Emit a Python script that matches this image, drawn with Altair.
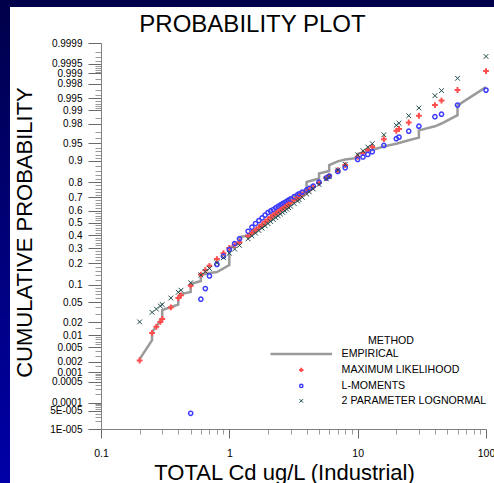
import math
from statistics import NormalDist

import altair as alt
import pandas as pd

FONT = "Liberation Sans"
_nd = NormalDist()


def probit(p):
    """Normal quantile used to build the probability-paper axis."""
    return _nd.inv_cdf(p)


# ---- fitted distributions, evaluated at the distinct concentrations (ug/L) ----
conc = [0.2, 0.25, 0.27, 0.29, 0.3, 0.35, 0.4, 0.42, 0.5, 0.6,
        0.65, 0.7, 0.8, 0.9, 1.0, 1.1, 1.2, 1.4, 1.5, 1.6,
        1.7, 1.8, 1.9, 2.0, 2.1, 2.2, 2.3, 2.4, 2.5, 2.6,
        2.7, 2.8, 2.9, 3.0, 3.2, 3.4, 3.5, 3.7, 4.0, 4.2,
        4.5, 5.0, 5.7, 6.0, 7.0, 8.0, 10, 11, 12, 13,
        16, 20, 21, 25, 30, 40, 45, 60, 100]

p_max_likelihood = [0.0022, 0.0114, 0.0157, 0.0202, 0.0233, 0.0401, 0.0600, 0.0668, 0.0968, 0.1423,
                    0.1635, 0.1867, 0.2266, 0.2644, 0.3015, 0.3228, 0.3446, 0.3936, 0.4168, 0.4404,
                    0.4641, 0.4840, 0.5080, 0.5279, 0.5458, 0.5636, 0.5793, 0.5925, 0.6056, 0.6179,
                    0.6293, 0.6406, 0.6510, 0.6613, 0.6801, 0.6973, 0.7054, 0.7204, 0.7410, 0.7533,
                    0.7704, 0.7949, 0.8230, 0.8332, 0.8617, 0.8836, 0.9140, 0.9251, 0.9342, 0.9418,
                    0.9582, 0.9715, 0.9738, 0.9810, 0.9866, 0.99257, 0.99425, 0.99699, 0.99915]

# L-moment fit has its lower bound near 0.5 ug/L: nothing plotted below it
p_l_moments = [None, None, None, None, None, None, None, None, 0.0000407, 0.0571,
               0.0869, 0.1357, 0.1949, 0.2451, 0.2894, 0.3336, 0.3707, 0.4305, 0.4641, 0.4940,
               0.5180, 0.5398, 0.5636, 0.5843, 0.5968, 0.6083, 0.6217, 0.6331, 0.6439, 0.6536,
               0.6628, 0.6718, 0.6808, 0.6890, 0.7054, 0.7190, 0.7257, 0.7373, 0.7514, 0.7611,
               0.7764, 0.7993, 0.8238, 0.8327, 0.8559, 0.8726, 0.9051, 0.9134, 0.9213, 0.9292,
               0.9452, 0.9590, 0.9618, 0.9709, 0.9772, 0.9859, 0.98765, 0.99255, 0.99697]

p_lognormal_2p = [0.0202, 0.0320, 0.0372, 0.0426, 0.0454, 0.0599, 0.0753, 0.0816, 0.1074, 0.1402,
                  0.1566, 0.1728, 0.2046, 0.2354, 0.2649, 0.2932, 0.3202, 0.3703, 0.3935, 0.4156,
                  0.4366, 0.4566, 0.4756, 0.4936, 0.5108, 0.5271, 0.5428, 0.5576, 0.5718, 0.5854,
                  0.5984, 0.6108, 0.6226, 0.6339, 0.6550, 0.6746, 0.6838, 0.7011, 0.7245, 0.7387,
                  0.7581, 0.7862, 0.8183, 0.8301, 0.8623, 0.8866, 0.9201, 0.9319, 0.9414, 0.9492,
                  0.9657, 0.9782, 0.9803, 0.9866, 0.99124, 0.99573, 0.99687, 0.99860, 0.99971]

# ---- empirical distribution (tied values give vertical runs) ----
emp_conc = [0.2, 0.25, 0.25, 0.27, 0.29, 0.3, 0.3, 0.35, 0.4, 0.4,
            0.42, 0.5, 0.5, 0.6, 0.6, 0.7, 0.8, 1.0, 1.0, 1.2,
            1.2, 1.4, 1.6, 2.0, 2.3, 2.6, 3.0, 3.3, 4.0, 4.0,
            5.0, 5.0, 6.0, 6.0, 7.0, 8.0, 10, 10, 13, 16,
            20, 25, 30, 30, 40, 45, 60, 60, 100]
emp_prob = [0.0024, 0.0076, 0.0119, 0.0161, 0.0219, 0.0249, 0.0355, 0.0407, 0.0453, 0.0610,
            0.0702, 0.0759, 0.1026, 0.1141, 0.1400, 0.1494, 0.1541, 0.1910, 0.2974, 0.3453,
            0.3844, 0.3963, 0.4247, 0.511, 0.560, 0.632, 0.696, 0.718, 0.751, 0.801,
            0.820, 0.846, 0.858, 0.884, 0.898, 0.905, 0.910, 0.923, 0.934, 0.943,
            0.949, 0.956, 0.961, 0.972, 0.977, 0.980, 0.987, 0.9924, 0.9975]

methods = ["EMPIRICAL", "MAXIMUM LIKELIHOOD", "L-MOMENTS", "2 PARAMETER LOGNORMAL"]
method_colors = ["#9a9a9a", "#ff4d4d", "#3c3cff", "#1f4a4a"]
method_widths = [2.5, 1, 1, 1]
method_shapes = [
    "M-15.4,0L15.4,0",
    "M-1.1,0L1.1,0M0,-1.1L0,1.1",
    "M-0.8,0A0.8,0.8 0 1,0 0.8,0A0.8,0.8 0 1,0 -0.8,0Z",
    "M-0.9,-0.9L0.9,0.9M-0.9,0.9L0.9,-0.9",
]

# ---- probability-paper tick marks ----
y_major_p = [0.00001, 0.00005, 0.0001, 0.0005, 0.001, 0.002, 0.005, 0.01, 0.02, 0.05,
             0.1, 0.2, 0.3, 0.4, 0.5, 0.6, 0.7, 0.8, 0.9, 0.95,
             0.98, 0.99, 0.995, 0.998, 0.999, 0.9995, 0.9999]
y_major_labels = ["1E-005", "5E-005", "0.0001", "0.0005", "0.001", "0.002", "0.005", "0.01", "0.02", "0.05",
                  "0.1", "0.2", "0.3", "0.4", "0.5", "0.6", "0.7", "0.8", "0.9", "0.95",
                  "0.98", "0.99", "0.995", "0.998", "0.999", "0.9995", "0.9999"]
y_minor_p = [0.00002, 0.00003, 0.00004, 0.00006, 0.00007, 0.00008, 0.00009,
             0.0002, 0.0003, 0.0004, 0.0006, 0.0007, 0.0008, 0.0009, 0.0015,
             0.003, 0.004, 0.006, 0.007, 0.008, 0.009, 0.015, 0.03, 0.04,
             0.06, 0.07, 0.08, 0.09,
             0.12, 0.14, 0.16, 0.18, 0.22, 0.24, 0.26, 0.28, 0.32, 0.34, 0.36, 0.38,
             0.42, 0.44, 0.46, 0.48, 0.52, 0.54, 0.56, 0.58, 0.62, 0.64, 0.66, 0.68,
             0.72, 0.74, 0.76, 0.78, 0.82, 0.84, 0.86, 0.88,
             0.91, 0.92, 0.93, 0.94, 0.96, 0.97, 0.985, 0.991, 0.992, 0.993, 0.994,
             0.996, 0.997, 0.9985, 0.9991, 0.9992, 0.9993, 0.9994, 0.9996, 0.9997, 0.9998]

x_major = [0.1, 1, 10, 100]
x_minor = [0.2, 0.3, 0.4, 0.5, 0.6, 0.7, 0.8, 0.9,
           2, 3, 4, 5, 6, 7, 8, 9,
           20, 30, 40, 50, 60, 70, 80, 90]

# ---- build tables ----
rows = []
for i, c in enumerate(conc):
    for name, series in ((methods[1], p_max_likelihood),
                         (methods[2], p_l_moments),
                         (methods[3], p_lognormal_2p)):
        p = series[i]
        if p is not None:
            rows.append({"conc": c, "prob": p, "z": probit(p), "method": name})
points = pd.DataFrame(rows)

empirical = pd.DataFrame({
    "conc": emp_conc,
    "prob": emp_prob,
    "z": [probit(p) for p in emp_prob],
    "step": list(range(len(emp_conc))),
    "method": methods[0],
})

z_lo, z_hi = probit(y_major_p[0]), probit(y_major_p[-1])
z_major = [probit(p) for p in y_major_p]
y_ticks = sorted(z_major + [probit(p) for p in y_minor_p])

keys = [math.floor(z * 10000 + 0.5) for z in z_major]
key_js = "[" + ",".join(str(k) for k in keys) + "]"
lbl_js = "[" + ",".join("'" + s + "'" for s in y_major_labels) + "]"
y_is_major = f"indexof({key_js}, round(datum.value*10000)) >= 0"
y_label_expr = f"{y_is_major} ? {lbl_js}[indexof({key_js}, round(datum.value*10000))] : ''"

x_is_major = "indexof([0.1, 1, 10, 100], datum.value) >= 0"
x_label_expr = ("datum.value == 0.1 ? '0.1' : datum.value == 1 ? '1' : "
                "datum.value == 10 ? '10' : datum.value == 100 ? '100' : ''")

x_axis = alt.Axis(
    values=sorted(x_major + x_minor),
    labelExpr=x_label_expr,
    title="TOTAL Cd ug/L (Industrial)",
    tickSize={"condition": {"test": x_is_major, "value": 9}, "value": 5},
    tickColor={"condition": {"test": x_is_major, "value": "#6a6a6a"}, "value": "#9a9a9a"},
    domainColor="#808080",
    labelFont=FONT, labelFontSize=10.5, labelColor="black", labelPadding=10,
    labelFlush=False, labelOverlap=False, grid=False,
    titleFont=FONT, titleFontSize=22, titleFontWeight="normal", titleColor="black",
    titleX=183, titleY=50, titleAlign="center", titleBaseline="alphabetic",
)

y_axis = alt.Axis(
    values=y_ticks,
    labelExpr=y_label_expr,
    title="CUMULATIVE PROBABILITY",
    tickSize={"condition": {"test": y_is_major, "value": 13}, "value": 6},
    tickColor={"condition": {"test": y_is_major, "value": "#6a6a6a"}, "value": "#9a9a9a"},
    domainColor="#808080",
    labelFont=FONT, labelFontSize=10, labelColor="black", labelPadding=6,
    labelFlush=False, labelOverlap=False, grid=False,
    titleFont=FONT, titleFontSize=22, titleFontWeight="normal", titleColor="black",
    titleAngle=270, titleX=-70, titleY=189, titleAlign="center", titleBaseline="alphabetic",
)

x_enc = alt.X("conc:Q", scale=alt.Scale(type="log", domain=[0.1, 100], nice=False), axis=x_axis)
y_enc = alt.Y("z:Q", scale=alt.Scale(domain=[z_lo, z_hi], nice=False, zero=False), axis=y_axis)

# trailing no-break spaces keep the legend heading centred over the whole block,
# including the long line sample that sticks out left of the symbol column
legend = alt.Legend(
    title="METHOD" + "\u00a0" * 6, orient="none", legendX=195, legendY=293,
    titleFont=FONT, titleFontSize=10.6, titleFontWeight="normal", titleColor="black",
    titleAnchor="middle", titlePadding=2,
    labelFont=FONT, labelFontSize=10.6, labelColor="black", labelOffset=35,
    symbolSize=16, rowPadding=4, padding=0,
)
color_enc = alt.Color("method:N", scale=alt.Scale(domain=methods, range=method_colors), legend=legend)
width_enc = alt.StrokeWidth("method:N", scale=alt.Scale(domain=methods, range=method_widths), legend=legend)
shape_enc = alt.Shape("method:N", scale=alt.Scale(domain=methods, range=method_shapes), legend=legend)

empirical_line = alt.Chart(empirical).mark_line(strokeJoin="miter").encode(
    x=x_enc, y=y_enc, order="step:Q", color=color_enc, strokeWidth=width_enc,
)

fitted_points = alt.Chart(points).mark_point(filled=False, opacity=1, size=28).encode(
    x=x_enc, y=y_enc, color=color_enc, shape=shape_enc, strokeWidth=width_enc,
)

# slide frame: dark strip along the left edge and the top edge
frame_left = alt.Chart(alt.Data(values=[{}])).mark_rect(
    color=alt.LinearGradient(
        gradient="linear", x1=0, x2=0, y1=0, y2=1,
        stops=[alt.GradientStop(color="#00004a", offset=0),
               alt.GradientStop(color="#0000a8", offset=1)],
    )
).encode(x=alt.value(-101), x2=alt.value(-91), y=alt.value(-43), y2=alt.value(440))

frame_top = alt.Chart(alt.Data(values=[{}])).mark_rect(color="#00004a").encode(
    x=alt.value(-101), x2=alt.value(393), y=alt.value(-43), y2=alt.value(-36)
)

chart = alt.layer(frame_left, frame_top, empirical_line, fitted_points).properties(
    width=385,
    height=386,
    padding={"left": 101, "top": 43, "right": 8, "bottom": 54},
    autosize=alt.AutoSizeParams(type="none"),
    background="white",
    title=alt.TitleParams(
        "PROBABILITY PLOT", font=FONT, fontSize=24, fontWeight="normal", color="black",
        anchor="middle", frame="group", dx=-41, dy=62, offset=6, baseline="alphabetic",
    ),
).configure_view(strokeWidth=0)

chart.save("out.html", embed_options={"renderer": "svg", "actions": False})
